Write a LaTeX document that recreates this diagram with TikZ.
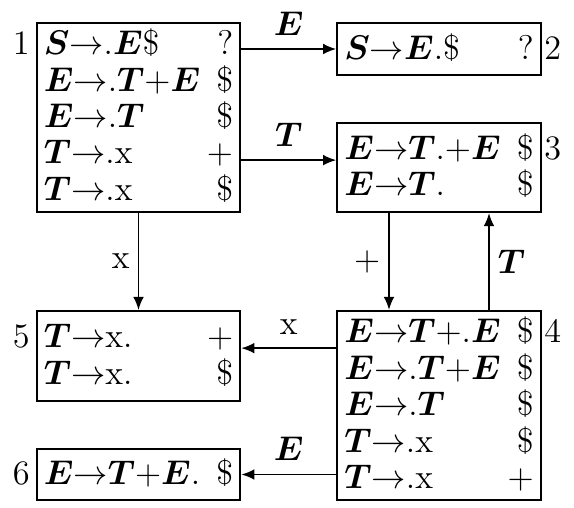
\documentclass[tikz,border=0pt]{standalone}
\usepackage{amsmath,bm}
\usetikzlibrary{positioning,arrows.meta,calc}

\tikzset{
  state/.style={draw, line width=0.8pt, minimum width=85.5pt, inner xsep=3pt, inner ysep=0pt},
  trans/.style={line width=0.8pt, -{Latex[length=5.5pt,width=4.5pt]}},
}
% item sets: item left, lookahead right
\newcommand{\items}[1]{\begin{tabular*}{79.5pt}{@{}l@{\extracolsep{\fill}}r@{}}\rule{0pt}{13pt}\ignorespaces#1\end{tabular*}}
\newcommand{\numl}[1]{\llap{#1\hspace{6pt}}}
\newcommand{\numr}[1]{\rlap{\hspace{4.5pt}#1}}
\newcommand{\arr}{{\rightarrow}}
\newcommand{\pl}{{+}}

\begin{document}
\begin{tikzpicture}[x=0.42pt, y=-0.42pt, font=\fontsize{14.4}{15.1}\selectfont]
  \useasboundingbox (0,0) rectangle (574,508);

  % states
  \node[state, minimum height=79.4pt] (B1) at (138.5,117.5) {\items{
    \numl{1}$\bm{S}\arr.\bm{E}\$$ & ? \\
    $\bm{E}\arr.\bm{T}\pl\bm{E}$ & \$ \\
    $\bm{E}\arr.\bm{T}$ & \$ \\
    $\bm{T}\arr.\mathrm{x}$ & $+$ \\
    $\bm{T}\arr.\mathrm{x}$ & \$ }};
  \node[state, minimum height=21.8pt] (B2) at (439,49) {\items{
    $\bm{S}\arr\bm{E}.\$$ & ?\numr{2} }};
  \node[state, minimum height=37.4pt] (B3) at (439,167.5) {\items{
    $\bm{E}\arr\bm{T}.\pl\bm{E}$ & \$\numr{3} \\
    $\bm{E}\arr\bm{T}.$ & \$ }};
  \node[state, minimum height=79.4pt] (B4) at (439,405.5) {\items{
    $\bm{E}\arr\bm{T}\pl.\bm{E}$ & \$\numr{4} \\
    $\bm{E}\arr.\bm{T}\pl\bm{E}$ & \$ \\
    $\bm{E}\arr.\bm{T}$ & \$ \\
    $\bm{T}\arr.\mathrm{x}$ & \$ \\
    $\bm{T}\arr.\mathrm{x}$ & $+$ }};
  \node[state, minimum height=37.8pt] (B5) at (138.5,356) {\items{
    \numl{5}$\bm{T}\arr\mathrm{x}.$ & $+$ \\
    $\bm{T}\arr\mathrm{x}.$ & \$ }};
  \node[state, minimum height=21.4pt] (B6) at (138.5,474.5) {\items{
    \numl{6}$\bm{E}\arr\bm{T}\pl\bm{E}.$ & \$ }};

  % transitions
  \coordinate (r3) at ([yshift=-16pt]B3.north west);
  \coordinate (r5) at ([yshift=-16pt]B5.north east);
  \coordinate (d3) at ([xshift=-21pt]B3.south);
  \coordinate (u4) at ([xshift=21pt]B4.north);

  \draw[trans] (B1.east |- B2.west) -- node[above=2pt] {$\bm{E}$} (B2.west);
  \draw[trans] (B1.east |- r3) -- node[above=2pt] {$\bm{T}$} (r3);
  \draw[trans] (B1.south) -- node[left] {$\mathrm{x}$} (B5.north);
  \draw[trans] (d3) -- node[left] {$+$} (d3 |- B4.north);
  \draw[trans] (u4) -- node[right] {$\bm{T}$} (u4 |- B3.south);
  \draw[trans] (B4.west |- r5) -- node[above=2pt] {$\mathrm{x}$} (r5);
  \draw[trans] (B4.west |- B6.east) -- node[above=2pt] {$\bm{E}$} (B6.east);
\end{tikzpicture}
\end{document}
